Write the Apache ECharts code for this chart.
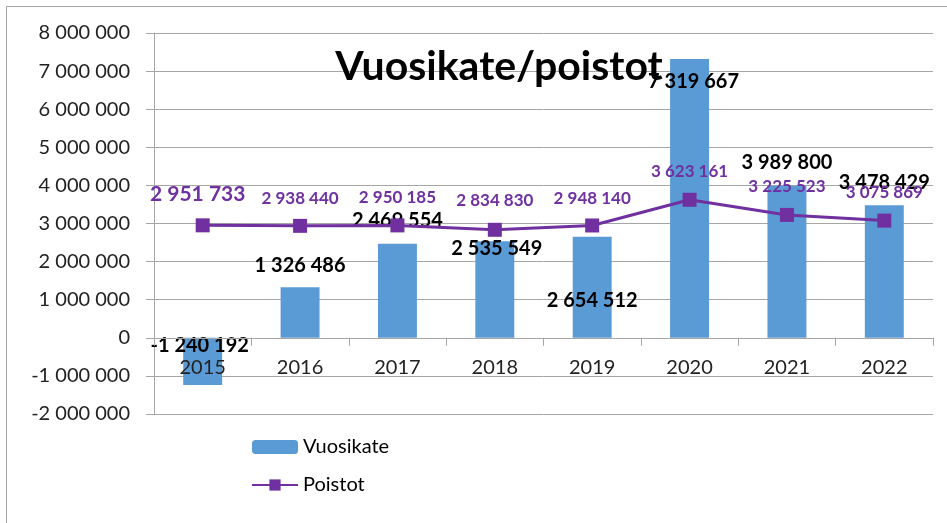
<!DOCTYPE html>
<html>
<head>
<meta charset="utf-8">
<script src="https://cdn.jsdelivr.net/npm/echarts@6/dist/echarts.min.js"></script>
<style>
  html, body { margin: 0; padding: 0; background: #fff; }
  #main { width: 947px; height: 523px; position: relative; }
  #frame { position: absolute; left: 6px; top: 6px; width: 960px; height: 560px; border: 1.5px solid #a6a6a6; pointer-events: none; }
</style>
</head>
<body>
<div id="main"></div>
<div id="frame"></div>
<script>
// Vuosikate/poistot
var years = ['2015', '2016', '2017', '2018', '2019', '2020', '2021', '2022'];
var vuosikate = [-1240192, 1326486, 2469554, 2535549, 2654512, 7319667, 3989800, 3478429];
var poistot = [2951733, 2938440, 2950185, 2834830, 2948140, 3623161, 3225523, 3075869];
var yTicks = { min: -2000000, max: 8000000, step: 1000000 };

function fmt(v) {
  var s = String(Math.abs(v)).replace(/\B(?=(\d{3})+(?!\d))/g, ' ');
  return (v < 0 ? '-' : '') + s;
}

var FONT = 'Lato';

// käsin siirretyt datalabelit (kuten Excelissä)
var barLabelShift = [[-3, 23], [0, -7], [0, -8], [2, 22], [0, 79], [4, 38], [0, -8], [0, -8]];
var lineLabelShift = [[-5, -9], [0, -7], [0, -7], [0, -9], [0, -6], [0, -8], [0, -8], [0, -8]];

var GRID = { left: 154, right: 14, top: 33, bottom: 109 };
// x-akseli nollatasolle
var plotH = 523 - GRID.top - GRID.bottom;
var zeroShift = plotH * (0 - yTicks.min) / (yTicks.max - yTicks.min);

var chart = echarts.init(document.getElementById('main'));

var option = {
  animation: false,
  backgroundColor: '#fff',
  textStyle: { fontFamily: FONT },
  title: {
    text: 'Vuosikate/poistot',
    left: 494,
    top: 41,
    textAlign: 'center',
    textStyle: { fontFamily: FONT, fontSize: 41, fontWeight: 'bold', color: '#000' }
  },
  legend: {
    orient: 'vertical',
    left: 246,
    top: 432,
    itemWidth: 46,
    itemHeight: 14,
    itemGap: 18,
    textStyle: { fontFamily: FONT, fontSize: 20, color: '#000' },
    data: ['Vuosikate', 'Poistot']
  },
  grid: GRID,
  xAxis: {
    type: 'category',
    data: years,
    offset: -zeroShift,
    z: 4,
    axisLine: { onZero: false, lineStyle: { color: '#a6a6a6', width: 1 } },
    axisTick: { show: true, length: 8, lineStyle: { color: '#a6a6a6' } },
    axisLabel: { margin: 20, fontFamily: FONT, fontSize: 20, color: '#222' }
  },
  yAxis: {
    type: 'value',
    min: yTicks.min,
    max: yTicks.max,
    interval: yTicks.step,
    axisLine: { show: true, lineStyle: { color: '#a6a6a6', width: 1 } },
    axisTick: { show: true, length: 8, lineStyle: { color: '#a6a6a6' } },
    splitLine: { lineStyle: { color: '#a6a6a6', width: 1 } },
    axisLabel: { margin: 24, fontFamily: FONT, fontSize: 20, color: '#222', formatter: fmt }
  },
  series: [
    {
      name: 'Vuosikate',
      type: 'bar',
      barWidth: '40%',
      itemStyle: { color: '#5b9bd5' },
      label: {
        show: true,
        position: 'top',
        fontFamily: FONT,
        fontSize: 20,
        fontWeight: 'bold',
        color: '#000',
        formatter: function (p) { return fmt(p.value); }
      },
      data: vuosikate.map(function (v, i) {
        return { value: v, label: { offset: barLabelShift[i] } };
      }),
      z: 2
    },
    {
      name: 'Poistot',
      type: 'line',
      symbol: 'rect',
      symbolSize: 14,
      lineStyle: { color: '#7030a0', width: 3 },
      itemStyle: { color: '#7030a0' },
      label: {
        show: true,
        position: 'top',
        fontFamily: FONT,
        fontSize: 17,
        fontWeight: 'bold',
        color: '#7030a0',
        formatter: function (p) { return fmt(p.value); }
      },
      data: poistot.map(function (v, i) {
        var lbl = { offset: lineLabelShift[i] };
        if (i === 0) lbl.fontSize = 21;
        return { value: v, label: lbl };
      }),
      z: 3
    }
  ]
};

chart.setOption(option);
</script>
</body>
</html>
